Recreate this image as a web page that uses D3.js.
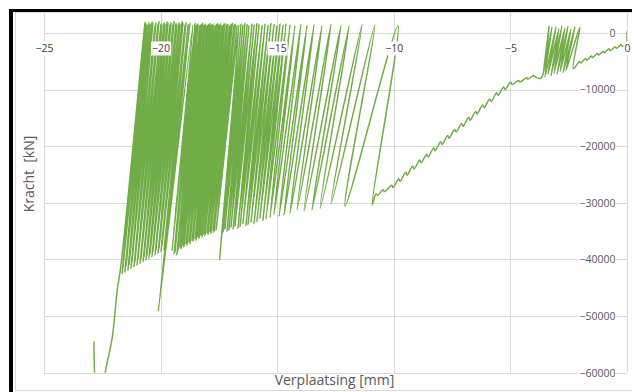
<!DOCTYPE html>
<html>
<head>
<meta charset="utf-8">
<script src="https://cdn.jsdelivr.net/npm/d3@7"></script>
<style>
  html, body { margin: 0; padding: 0; background: #ffffff; }
  svg { display: block; }
  text { font-family: "Open Sans", "DejaVu Sans", sans-serif; }
</style>
</head>
<body>
<svg id="chart" width="632" height="392"></svg>
<script>
// ---- Data: displacement in mm, force in kN ----

// First loading branch from the origin
const firstLoadDisp  = [0, -0.04, -0.2, -0.25, -0.45, -0.5, -0.72, -0.77, -0.98, -1.03, -1.22, -1.27, -1.48, -1.53, -1.72, -1.78, -1.98, -2.03, -2.3];
const firstLoadForce = [300, -1900, -2350, -2050, -2700, -2450, -3100, -2800, -3500, -3250, -3900, -3600, -4350, -4050, -4800, -4500, -5300, -5050, -6300];

// Low-load cycles (peak, then valley)
const lowPeakDisp    = [-2.02, -2.23, -2.40, -2.53, -2.66, -2.79, -2.92, -3.04, -3.22, -3.34];
const lowPeakForce   = [1000, 1100, 700, 1200, 900, 1300, 800, 1100, 1000, 1200];
const lowValleyDisp  = [-2.62, -2.74, -2.87, -3.00, -3.13, -3.26, -3.39, -3.52, -3.60, -3.69];
const lowValleyForce = [-6700, -7000, -6800, -7300, -7100, -7600, -7300, -7800, -7500, -8000];

// Second loading branch up to the first large cycle
const secondLoadDisp  = [-3.95, -4.0, -4.25, -4.3, -4.6, -4.65, -4.93, -4.99, -5.23, -5.29, -5.53, -5.59, -5.83, -5.89, -6.13, -6.19, -6.43, -6.49, -6.73, -6.79, -7.03, -7.09, -7.33, -7.39, -7.63, -7.69, -7.93, -7.99, -8.23, -8.29, -8.53, -8.59, -8.83, -8.89, -9.13, -9.19, -9.43, -9.49, -9.73, -9.79, -10.03, -10.09, -10.4, -10.46, -10.7, -10.76];
const secondLoadForce = [-7700, -7500, -8150, -7900, -8650, -8400, -9100, -8650, -10000, -9550, -11000, -10550, -12100, -11650, -13200, -12700, -14300, -13850, -15400, -14900, -16500, -16000, -17500, -17050, -18600, -18100, -19700, -19200, -20800, -20300, -21900, -21400, -22900, -22450, -24000, -23500, -25100, -24600, -26200, -25750, -27300, -26900, -28000, -27700, -28700, -28400];

// Large cycles (valley, then peak)
const cycleValleyDisp = [
  -10.93, -12.09, -12.69, -13.16, -13.51, -13.85, -14.15, -14.45, -14.71, -14.92,
  -15.14, -15.31, -15.48, -15.61, -15.74, -15.87, -15.99, -16.12, -16.25, -16.34,
  -16.47, -16.59, -16.68, -16.81, -16.89, -16.98, -17.07, -17.15, -17.24, -17.32,
  -17.47, -17.62, -17.71, -17.75, -17.84, -17.88, -17.97, -18.01, -18.10, -18.14,
  -18.22, -18.27, -18.35, -18.40, -18.48, -18.52, -18.61, -18.65, -18.74, -18.78,
  -18.87, -18.91, -19.00, -19.04, -19.12, -19.17, -19.25, -19.30, -19.38, -19.42,
  -19.51, -20.10, -19.77, -19.85, -19.94, -19.98, -20.07, -20.11, -20.20, -20.24,
  -20.33, -20.37, -20.45, -20.50, -20.58, -20.63, -20.71, -20.75, -20.84, -20.88,
  -20.97, -21.01, -21.10, -21.14, -21.23, -21.27, -21.35, -21.40, -21.48, -21.53,
  -21.61, -21.65
];
const cycleValleyForce = [
  -30400, -30600, -30200, -31000, -31300, -31500, -31300, -31900, -32200, -32400,
  -32100, -32600, -32900, -33100, -32700, -33300, -33600, -33400, -33800, -34000,
  -33700, -34200, -34500, -34100, -34600, -34300, -34800, -35000, -34600, -35200,
  -40100, -34800, -35200, -34900, -35400, -35100, -35600, -35300, -35800, -35500,
  -36000, -35700, -36300, -36000, -36600, -36300, -36900, -36600, -37200, -36900,
  -37500, -37200, -37800, -37500, -38100, -37800, -38400, -39200, -38600, -39000,
  -38500, -49200, -37800, -38300, -37600, -38600, -38000, -38900, -38300, -39200,
  -38600, -39500, -38900, -39800, -39200, -40100, -39500, -40400, -39800, -40700,
  -40000, -41000, -40300, -41300, -40600, -41600, -40900, -41900, -41200, -42200,
  -41500, -42500
];
const cyclePeakDisp = [
  -9.82, -10.81, -11.36, -11.92, -12.26, -12.69, -13.08, -13.42, -13.72, -13.98,
  -14.24, -14.45, -14.62, -14.75, -14.88, -15.01, -15.14, -15.27, -15.39, -15.52,
  -15.65, -15.78, -15.87, -15.99, -16.08, -16.21, -16.29, -16.38, -16.47, -16.55,
  -16.64, -16.72, -16.79, -16.85, -16.92, -16.98, -17.04, -17.11, -17.17, -17.24,
  -17.30, -17.37, -17.43, -17.50, -17.56, -17.62, -17.69, -17.75, -17.82, -17.88,
  -17.95, -18.01, -18.07, -18.14, -18.20, -18.27, -18.33, -18.40, -18.46, -18.52,
  -18.61, -18.74, -18.82, -18.91, -18.95, -19.04, -19.08, -19.17, -19.21, -19.30,
  -19.34, -19.42, -19.47, -19.55, -19.60, -19.68, -19.72, -19.81, -19.85, -19.94,
  -19.98, -20.07, -20.11, -20.20, -20.24, -20.33, -20.37, -20.45, -20.50, -20.58,
  -20.63, -20.67
];
const cyclePeakForce = [
  1300, 1400, 1500, 1200, 1400, 1600, 1300, 1500, 1400, 1600,
  1300, 1500, 1700, 1400, 1600, 1300, 1500, 1700, 1400, 1600,
  1300, 1500, 1700, 1400, 1600, 1300, 1500, 1700, 1400, 1600,
  1500, 1300, 1600, 1400, 1700, 1500, 1300, 1600, 1400, 1700,
  1500, 1300, 1600, 1400, 1700, 1500, 1300, 1600, 1400, 1700,
  1500, 1300, 1600, 1400, 1700, 1500, 1300, 1600, 1400, 1700,
  1500, 1800, 1500, 1900, 1400, 1700, 2000, 1500, 1800, 1400,
  1700, 2000, 1500, 1800, 1400, 1700, 2000, 1500, 1800, 1400,
  1700, 2000, 1500, 1800, 1400, 1700, 2000, 1500, 1800, 1400,
  1700, 1900
];

// Final branch after the last cycle
const failureDisp  = [-21.7, -21.86, -22.07, -22.38, -22.55, -22.75, -22.83, -22.86];
const failureForce = [-41000, -45400, -53700, -60000, -65000, -64000, -60000, -54500];

// Axis ticks and titles
const xTicks = [-25, -20, -15, -10, -5, 0];
const yTicks = [0, -10000, -20000, -30000, -40000, -50000, -60000];
const xTitle = "Verplaatsing [mm]";
const yTitle = "Kracht  [kN]";

// ---- Build the full load path in recorded order ----
const path = [];
firstLoadDisp.forEach((d, i) => path.push([d, firstLoadForce[i]]));
lowPeakDisp.forEach((d, i) => {
  path.push([d, lowPeakForce[i]]);
  path.push([lowValleyDisp[i], lowValleyForce[i]]);
});
secondLoadDisp.forEach((d, i) => path.push([d, secondLoadForce[i]]));
cycleValleyDisp.forEach((d, i) => {
  path.push([d, cycleValleyForce[i]]);
  path.push([cyclePeakDisp[i], cyclePeakForce[i]]);
});
failureDisp.forEach((d, i) => path.push([d, failureForce[i]]));

// ---- Layout ----
const svg = d3.select("#chart");
const left = 44, right = 627, top0 = 33, bottom = 372.7;
const x = d3.scaleLinear().domain([-25, 0]).range([left, right]);
const y = d3.scaleLinear().domain([-60000, 0]).range([bottom, top0]);
const gridColor = "#d9d9d9";
const textColor = "#595959";

// Chart area border
svg.append("rect").attr("x", 15.5).attr("y", 12.5).attr("width", 640).attr("height", 378)
  .attr("fill", "#fff").attr("stroke", gridColor).attr("stroke-width", 1);

// Gridlines
svg.append("g").selectAll("line").data(xTicks).join("line")
  .attr("x1", d => Math.round(x(d)) + 0.5).attr("x2", d => Math.round(x(d)) + 0.5)
  .attr("y1", 12).attr("y2", bottom)
  .attr("stroke", gridColor).attr("stroke-width", 1);
svg.append("g").selectAll("line").data(yTicks).join("line")
  .attr("x1", left).attr("x2", right)
  .attr("y1", d => Math.round(y(d)) + 0.5).attr("y2", d => Math.round(y(d)) + 0.5)
  .attr("stroke", gridColor).attr("stroke-width", 1);

// Data line
svg.append("clipPath").attr("id", "plotClip")
  .append("rect").attr("x", left).attr("y", 12).attr("width", right - left).attr("height", bottom - 12);

const line = d3.line()
  .x(d => x(d[0]))
  .y(d => y(d[1]))
  .curve(d3.curveCatmullRom.alpha(0.5));

svg.append("path")
  .datum(path)
  .attr("clip-path", "url(#plotClip)")
  .attr("fill", "none")
  .attr("stroke", "#70ad47")
  .attr("stroke-width", 1.5)
  .attr("stroke-linejoin", "round")
  .attr("d", line);

// Axes: x labels below the zero-force line, y labels left of the zero-displacement line
const xAxis = svg.append("g")
  .attr("transform", `translate(0,${top0})`)
  .call(d3.axisBottom(x).tickValues(xTicks).tickSize(0).tickPadding(12).tickFormat(d3.format("d")));
const yAxis = svg.append("g")
  .attr("transform", `translate(${right},0)`)
  .call(d3.axisLeft(y).tickValues(yTicks).tickSize(0).tickPadding(11.5).tickFormat(d3.format("d")));

[xAxis, yAxis].forEach(g => {
  g.select(".domain").remove();
  g.selectAll("text")
    .attr("fill", textColor)
    .style("font-size", "10.5px")
    .style("font-family", '"Open Sans", sans-serif');
  // white box behind each label
  g.selectAll(".tick").each(function () {
    const t = d3.select(this).select("text");
    const b = t.node().getBBox();
    d3.select(this).insert("rect", "text")
      .attr("x", b.x - 1).attr("y", b.y)
      .attr("width", b.width + 2).attr("height", b.height)
      .attr("fill", "#fff");
  });
});
xAxis.selectAll("text").attr("fill", "#404040");

// Axis titles
svg.append("text")
  .attr("x", 334.5).attr("y", 384.5)
  .attr("text-anchor", "middle")
  .attr("fill", textColor)
  .style("font-size", "14px")
  .text(xTitle);

svg.append("text")
  .attr("transform", "translate(33.5,174) rotate(-90)")
  .attr("text-anchor", "middle")
  .attr("xml:space", "preserve")
  .attr("fill", textColor)
  .style("font-size", "14px")
  .style("white-space", "pre")
  .text(yTitle);

// Outer frame
svg.append("rect").attr("x", 0).attr("y", 0).attr("width", 632).attr("height", 9).attr("fill", "#fff");
svg.append("rect").attr("x", 0).attr("y", 0).attr("width", 9).attr("height", 392).attr("fill", "#fff");
svg.append("rect").attr("x", 9).attr("y", 9).attr("width", 623).attr("height", 3).attr("fill", "#000");
svg.append("rect").attr("x", 9).attr("y", 9).attr("width", 4).attr("height", 383).attr("fill", "#000");
</script>
</body>
</html>
